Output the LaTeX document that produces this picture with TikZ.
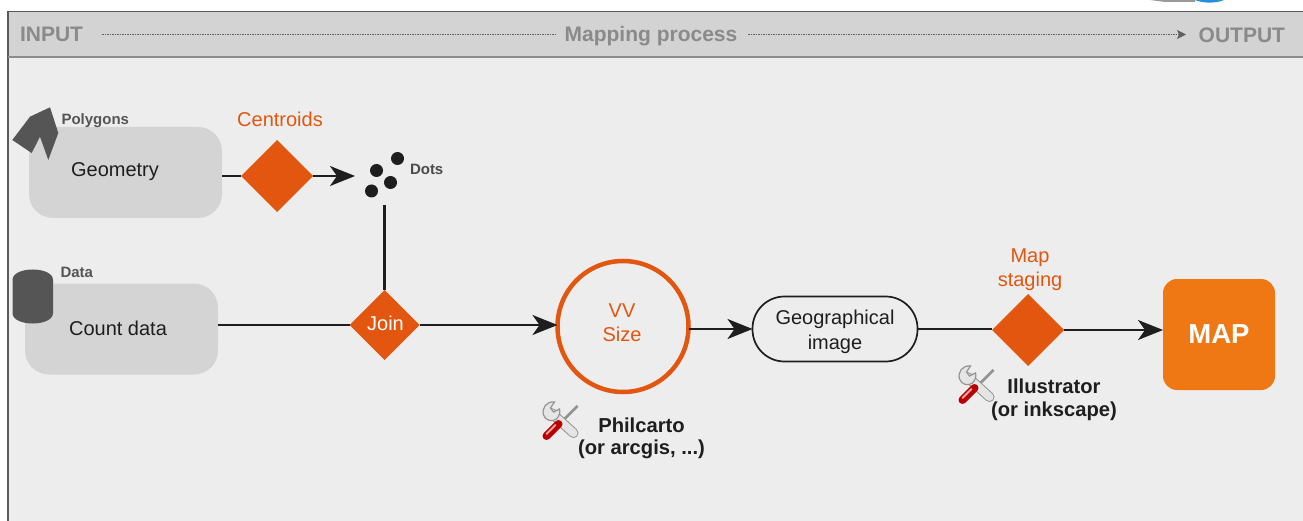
\documentclass[tikz,border=0pt]{standalone}
\usepackage{fontspec}
\setmainfont{Liberation Sans}
\usetikzlibrary{arrows.meta,shapes.geometric}
\definecolor{bgc}{HTML}{EDEDED}
\definecolor{barc}{HTML}{D3D3D3}
\definecolor{boxc}{HTML}{D4D4D4}
\definecolor{darkc}{HTML}{555555}
\definecolor{framec}{HTML}{5A5A5A}
\definecolor{greyt}{HTML}{8A8A8A}
\definecolor{orc}{HTML}{E2560F}
\definecolor{mapc}{HTML}{F07814}
\definecolor{inkc}{HTML}{1E1E1E}
\tikzset{
  x=1pt,y=-1pt,
  every node/.style={inner sep=0pt,outer sep=0pt,align=center,text=inkc},
  graybox/.style={fill=boxc,rounded corners=24pt,minimum width=193pt,minimum height=91pt},
  dia/.style={diamond,aspect=1,fill=orc,inner sep=0pt,minimum width=72pt,minimum height=72pt},
  conn/.style={draw=inkc,line width=2.1pt},
  arr/.style={conn,-{Stealth[length=25pt,width=20pt,inset=7pt]}},
  hdr/.style={font=\fontsize{21}{24}\selectfont\bfseries,text=greyt},
  small/.style={font=\fontsize{15}{17}\selectfont\bfseries,text=darkc},
  lab/.style={font=\fontsize{20}{25}\selectfont},
  olab/.style={font=\fontsize{20}{24}\selectfont,text=orc},
  tool/.style={font=\fontsize{20.2}{24}\selectfont\bfseries},
  dot/.style={circle,fill=inkc,minimum size=13pt},
  hline/.style={draw=greyt!70!black,line width=1.4pt,dash pattern=on 1.6pt off 0.9pt},
}
\newcommand{\toolicon}[2]{%
  \begin{scope}[shift={(#1,#2)}]
    % screwdriver shaft
    \draw[line width=2.6pt,draw=gray!85] (17,-15) -- (1,1);
    % wrench handle
    \draw[line width=10pt,draw=gray!85,line cap=round] (-9,-8) -- (13,12);
    \draw[line width=8pt,draw=gray!20,line cap=round] (-9,-8) -- (13,12);
    % wrench head
    \fill[gray!20,draw=gray!85,line width=1.2pt] (-6,-19) .. controls (-14,-20) and (-19,-13) .. (-17,-6) .. controls (-15,0) and (-8,1) .. (-4,-2) .. controls (-1,-5) and (0,-9) .. (-1,-12) -- (-7,-9) -- (-10,-13) -- cycle;
    % red handle
    \draw[line width=8pt,draw=red!72!black,line cap=round] (-14,15) -- (-2,3);
    \draw[line width=2pt,draw=red!35!white,line cap=round] (-14,13) -- (-5,4);
  \end{scope}}
\begin{document}
\begin{tikzpicture}
\useasboundingbox (0,0) rectangle (1303,521);
\fill[white] (0,0) rectangle (1303,521);
% fragment at the top edge
\fill[gray!80] (1150,0) -- (1195,0) -- (1195,2) -- (1165,2) -- cycle;
\fill[blue!40!cyan!70!gray] (1195,0) -- (1224,0) .. controls (1216,3.5) and (1203,3.5) .. (1195,0) -- cycle;
% panel
\fill[bgc] (8,11) rectangle (1303,521);
\fill[barc] (8,11) rectangle (1303,57);
\draw[framec,line width=1.2pt] (8,521) -- (8,11.5) -- (1303,11.5);
\draw[gray!90,line width=2pt] (8,57.5) -- (1303,57.5);
% header
\node[hdr,anchor=base west] (inp) at (20,42) {INPUT};
\node[hdr,anchor=base] (mp) at (651,42) {Mapping process};
\node[hdr,anchor=base east] (outp) at (1285,43) {OUTPUT};
\coordinate (hl1) at (102,34.5);
\coordinate (hl2) at (555,34.5);
\coordinate (hl3) at (748,34.5);
\coordinate (hl4) at (1186,34.5);
\draw[hline] (hl1) -- (hl2);
\draw[hline,-{Stealth[length=9pt,width=9pt,inset=2pt]}] (hl3) -- (hl4);
% left boxes
\node[graybox] (geo) at (125.5,172.5) {};
\node[lab] (geot) at (115,172) {Geometry};
\node[graybox] (cnt) at (121.5,329) {};
\node[lab] (cntt) at (118,328) {Count data};
% polygon icon
\fill[darkc] (12.3,140) -- (30,116.7) -- (50,107.3) -- (58.3,133) -- (48.3,160) -- (40,136.7) -- (31.7,153) -- cycle;
\node[small,anchor=base west] (poly) at (61.5,125) {Polygons};
% cylinder icon
\fill[darkc] (12.5,280) .. controls (12.5,266) and (53,266) .. (53,280) -- (53,313) .. controls (53,327) and (12.5,327) .. (12.5,313) -- cycle;
\node[small,anchor=base west] (dat) at (60.5,277.5) {Data};
% diamonds
\node[dia] (cen) at (277,176) {};
\node[olab,anchor=base] (cent) at (280,126.5) {Centroids};
\node[dia,minimum width=70pt,minimum height=70pt] (join) at (384.5,325) {};
\node[lab,text=white] (joint) at (385.5,323) {Join};
\node[dia] (stag) at (1028,330) {};
\node[olab] (stagt) at (1030,269.5) {Map\\staging};
% dots
\node[dot] (d1) at (397.5,158.5) {};
\node[dot] (d2) at (376.5,170.5) {};
\node[dot] (d3) at (390.5,182.5) {};
\node[dot] (d4) at (371.5,191) {};
\node[small,anchor=base west,text=inkc!80] (dots) at (410,175) {Dots};
\coordinate (dtip) at (355,176);
\coordinate (jtop) at (384.5,205);
% VV circle
\node[circle,draw=orc,line width=4.5pt,fill=bgc,minimum size=131pt] (vv) at (623,326.5) {};
\node[olab] (vvt) at (622,323) {VV\\Size};
% geographical image
\node[draw=inkc,line width=1.7pt,fill=none,rounded corners=32pt,minimum width=165pt,minimum height=65pt] (gimg) at (835,329) {};
\node[lab] (gimgt) at (835,332) {Geographical\\image};
% map
\node[fill=mapc,rounded corners=14pt,minimum width=112pt,minimum height=111pt,font=\fontsize{27.5}{30}\selectfont\bfseries,text=white] (map) at (1219,334.5) {MAP};
% connectors
\draw[conn] (geo.east |- cen.west) -- (cen.west);
\draw[arr] (cen.east) -- (dtip);
\draw[conn] (cnt.east |- join.west) -- (join.west);
\draw[conn] (join.north) -- (jtop);
\draw[arr] (join.east) -- (vv.west |- join.east);
\draw[arr] (vv.east |- gimg.west) -- (gimg.west);
\draw[conn] (gimg.east) -- (stag.west |- gimg.east);
\draw[arr] (stag.east) -- (map.west |- stag.east);
% tools
\toolicon{560.5}{421}
\node[tool] (ph1) at (641.5,425.5) {Philcarto};
\node[tool] (ph2) at (641.5,449) {(or arcgis, ...)};
\toolicon{976.5}{385}
\node[tool] (il1) at (1054,386) {Illustrator};
\node[tool] (il2) at (1054,411) {(or inkscape)};
\end{tikzpicture}
\end{document}
